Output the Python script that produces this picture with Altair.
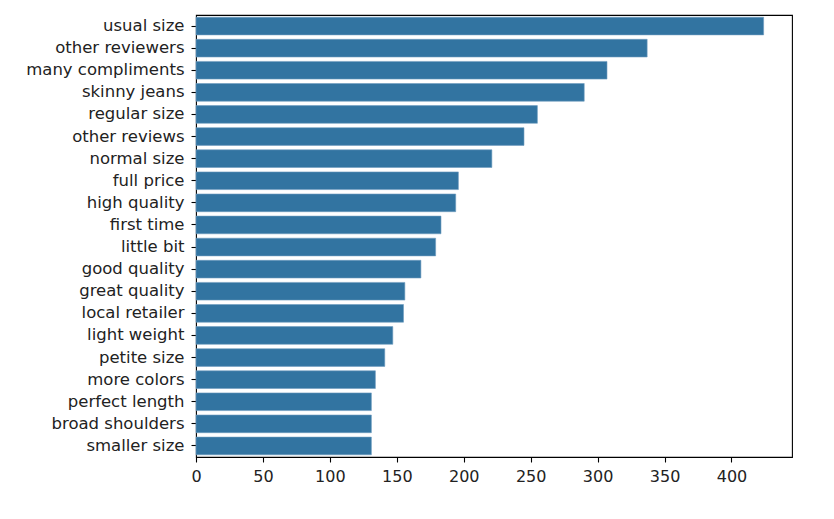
import altair as alt
import pandas as pd

phrases = ["usual size", "other reviewers", "many compliments", "skinny jeans",
           "regular size", "other reviews", "normal size", "full price",
           "high quality", "first time", "little bit", "good quality",
           "great quality", "local retailer", "light weight", "petite size",
           "more colors", "perfect length", "broad shoulders", "smaller size"]
counts = [424, 337, 307, 290, 255, 245, 221, 196, 194, 183, 179, 168,
          156, 155, 147, 141, 134, 131, 131, 131]
x_ticks = [0, 50, 100, 150, 200, 250, 300, 350, 400]

df = pd.DataFrame({"phrase": phrases, "count": counts})

chart = alt.Chart(df).mark_bar(color="#3274a1", stroke="#6f9cc0", strokeWidth=0.6).encode(
    x=alt.X("count:Q",
            scale=alt.Scale(domain=[0, max(counts) * 1.05], nice=False, zero=True),
            axis=alt.Axis(values=x_ticks, title=None, grid=False, format="d",
                          labelFont="DejaVu Sans", labelFontSize=16, labelColor="#222",
                          tickColor="#000", tickSize=5, tickWidth=1.1, labelPadding=6,
                          labelFlush=False, domain=False)),
    y=alt.Y("phrase:N", sort=phrases,
            scale=alt.Scale(paddingInner=0.2, paddingOuter=0.1),
            axis=alt.Axis(title=None, labelFont="DejaVu Sans", labelFontSize=16.5,
                          labelColor="#222", tickColor="#000", tickSize=5, tickWidth=1.1,
                          labelPadding=7, domain=False)),
).properties(
    width=596, height=442,
    autosize=alt.AutoSizeParams(type="none"),
    padding={"left": 188, "top": 7, "right": 30, "bottom": 40},
).configure_view(
    stroke="#000", strokeWidth=1.1
)

chart.save("out.html", embed_options={"renderer": "svg", "actions": False})
